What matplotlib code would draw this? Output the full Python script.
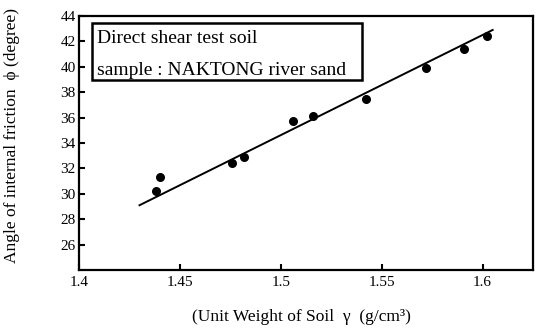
import matplotlib
matplotlib.use("Agg")
import matplotlib.pyplot as plt
from matplotlib.patches import Rectangle

# data
unit_weight = [1.438, 1.440, 1.476, 1.482, 1.506, 1.516, 1.542, 1.572, 1.591, 1.602]
friction_angle = [30.2, 31.3, 32.4, 32.9, 35.7, 36.1, 37.5, 39.9, 41.4, 42.4]
fit_x = [1.430, 1.605]
fit_y = [29.1, 42.9]
x_ticks = [1.40, 1.45, 1.50, 1.55, 1.60]
x_tick_labels = ["1.4", "1.45", "1.5", "1.55", "1.6"]
y_ticks = [26, 28, 30, 32, 34, 36, 38, 40, 42, 44]

plt.rcParams['font.family'] = ['Liberation Serif', 'DejaVu Serif']

fig = plt.figure(figsize=(5.37, 3.29), dpi=100)
ax = fig.add_axes([79/537, 1-270/329, 454/537, 254/329])

ax.plot(fit_x, fit_y, color='black', lw=1.4, zorder=2)
ax.scatter(unit_weight, friction_angle, s=30, color='black', zorder=3)

ax.set_xlim(1.40, 1.625)
ax.set_ylim(24, 44)
ax.set_xticks(x_ticks)
ax.set_xticklabels(x_tick_labels)
ax.set_yticks(y_ticks)
ax.tick_params(direction='in', length=4, width=1.5, labelsize=11)
ax.tick_params(axis='x', pad=4)
ax.tick_params(axis='y', pad=2.5)

for s in ax.spines.values():
    s.set_linewidth(1.6)

ax.set_xlabel("(Unit Weight of Soil  γ  (g/cm³)", fontsize=12.5)
ax.xaxis.set_label_coords(0.489, -0.155)
ax.set_ylabel("Angle of internal friction  ϕ (degree)", fontsize=12.5)
ax.yaxis.set_label_coords(-0.13, 0.53)

ax.add_patch(Rectangle((13/454, 190/254), 270/454, 57/254, transform=ax.transAxes,
                       facecolor='white', edgecolor='black', linewidth=1.8, zorder=4))
ax.text(18/454, 231/254, "Direct shear test soil", transform=ax.transAxes,
        fontsize=14, va='center', ha='left', zorder=5)
ax.text(18/454, 199/254, "sample : NAKTONG river sand", transform=ax.transAxes,
        fontsize=14, va='center', ha='left', zorder=5)

fig.savefig("out.png", dpi=100)
